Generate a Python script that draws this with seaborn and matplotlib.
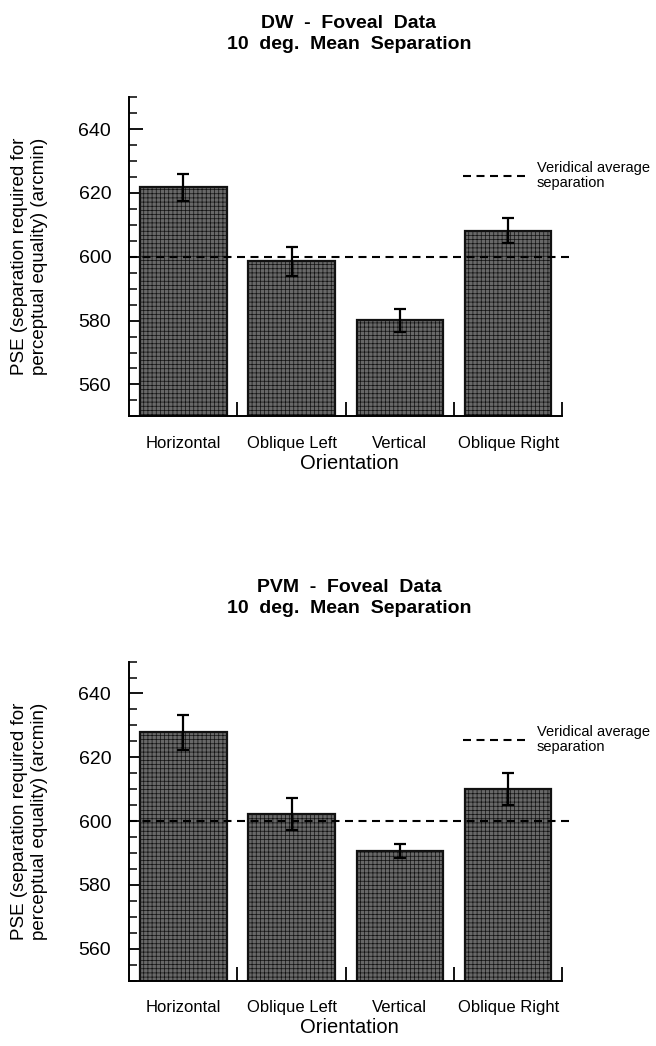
import matplotlib
matplotlib.use("Agg")
import matplotlib.pyplot as plt
from matplotlib.lines import Line2D
from matplotlib.ticker import MultipleLocator, FixedLocator
import pandas as pd
import seaborn as sns

orientations = ["Horizontal", "Oblique Left", "Vertical", "Oblique Right"]

dw_pse = [621.8, 598.6, 580.1, 608.2]
dw_err = [4.3, 4.6, 3.6, 3.9]

pvm_pse = [627.8, 602.3, 590.5, 610.0]
pvm_err = [5.6, 5.0, 2.2, 5.1]

veridical = 600

titles = ["DW  -  Foveal  Data\n10  deg.  Mean  Separation",
          "PVM  -  Foveal  Data\n10  deg.  Mean  Separation"]

sns.set_style("white")
plt.rcParams["font.family"] = ["Liberation Sans", "DejaVu Sans"]
plt.rcParams["hatch.linewidth"] = 0.5
plt.rcParams["text.color"] = "black"
plt.rcParams["axes.labelcolor"] = "black"
plt.rcParams["xtick.color"] = "black"
plt.rcParams["ytick.color"] = "black"

DASH = (0, (3.84, 2.64))


def draw_panel(ax, values, errors, title):
    df = pd.DataFrame({"Orientation": orientations, "PSE": values})
    sns.barplot(data=df, x="Orientation", y="PSE", ax=ax, color="#686868",
                width=0.8, edgecolor="#111111", linewidth=1.6,
                hatch="++++", errorbar=None, zorder=2)
    ax.errorbar(range(len(values)), values, yerr=errors, fmt="none",
                ecolor="black", elinewidth=1.6, capsize=4, capthick=1.6,
                zorder=4)
    ax.axhline(veridical, color="black", linestyle=DASH,
               linewidth=1.5, zorder=3)

    ax.set_ylim(550, 650)
    ax.set_xlim(-0.5, 3.56)
    sns.despine(ax=ax)
    ax.spines["bottom"].set_bounds(-0.5, 3.5)
    for sp in ("left", "bottom"):
        ax.spines[sp].set_linewidth(1.4)
        ax.spines[sp].set_color("black")

    ax.yaxis.set_major_locator(MultipleLocator(20))
    ax.yaxis.set_minor_locator(MultipleLocator(5))
    ax.tick_params(axis="y", which="major", direction="in", length=10,
                   width=1.3, labelsize=14, pad=13, left=True)
    ax.tick_params(axis="y", which="minor", direction="in", length=6,
                   width=1.1, left=True)

    ax.xaxis.set_minor_locator(FixedLocator([0.5, 1.5, 2.5, 3.5]))
    ax.tick_params(axis="x", which="major", length=0, labelsize=12, pad=14)
    ax.tick_params(axis="x", which="minor", direction="in", length=10,
                   width=1.3, bottom=True)

    ax.set_xlabel("Orientation", fontsize=14.5, labelpad=2)
    ax.set_ylabel("PSE (separation required for\nperceptual equality) (arcmin)",
                  fontsize=13.5, labelpad=22)
    ax.set_title(title, fontsize=14, fontweight="bold", pad=35,
                 linespacing=1.3)

    handle = Line2D([], [], color="black", linestyle=DASH, linewidth=1.5)
    leg = ax.legend([handle], ["Veridical average\nseparation"],
                    loc="center left", bbox_to_anchor=(0.759, 0.755),
                    frameon=False, fontsize=10.5, handlelength=4.25,
                    handletextpad=0.82, borderpad=0, borderaxespad=0)
    for t in leg.get_texts():
        t.set_linespacing(1.05)


fig = plt.figure(figsize=(6.56, 10.46), dpi=100)
ax1 = fig.add_axes([0.197, 0.602, 0.670, 0.305])
ax2 = fig.add_axes([0.197, 0.0625, 0.670, 0.305])

draw_panel(ax1, dw_pse, dw_err, titles[0])
draw_panel(ax2, pvm_pse, pvm_err, titles[1])

fig.savefig("out.png", dpi=100)
